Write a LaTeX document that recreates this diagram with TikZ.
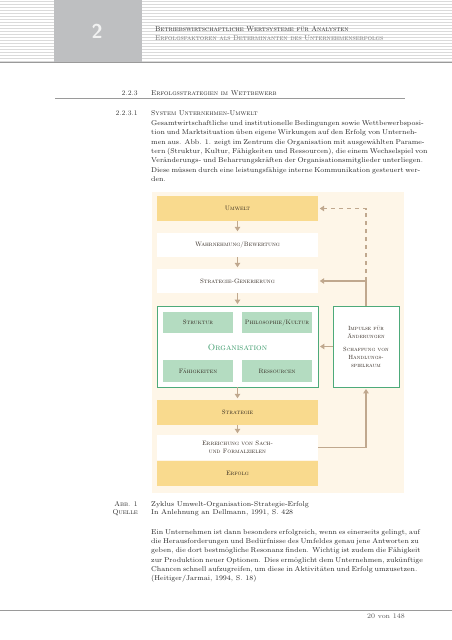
\documentclass[tikz,border=0pt]{standalone}
\usepackage{fontspec}
\usetikzlibrary{arrows.meta}
\definecolor{cream}{HTML}{FEF6E8}
\definecolor{gold}{HTML}{F9DA8E}
\definecolor{mint}{HTML}{B4DCC1}
\definecolor{grn}{HTML}{4DAA7A}
\definecolor{grntext}{HTML}{3A9A6A}
\definecolor{tan}{HTML}{C0A88E}
\definecolor{dtext}{HTML}{2E241C}
\definecolor{btext}{HTML}{262626}
\definecolor{hdrgray}{HTML}{BEBFC1}
\definecolor{stripe}{HTML}{DADADA}
\definecolor{rulegray}{HTML}{9A9A9A}
\newcommand{\jline}[1]{\makebox[254pt][s]{#1}}
\begin{document}
\begin{tikzpicture}[x=1pt,y=-1pt,
  box/.style={minimum width=161pt, minimum height=25pt, inner sep=0pt, align=center,
    font=\fontsize{6.3}{7.6}\selectfont\scshape\addfontfeature{FakeBold=0.5}, text=dtext},
  gbox/.style={box, fill=gold},
  wbox/.style={box, fill=white},
  mbox/.style={box, fill=mint, minimum width=70pt, minimum height=21.5pt},
  obox/.style={box, fill=white, draw=grn, line width=0.9pt},
  arr/.style={draw=tan, line width=1.4pt, -{Triangle[length=4.5pt,width=5.5pt]}, shorten >=1.5pt},
  body/.style={anchor=base west, inner sep=0pt, font=\fontsize{7}{9}\selectfont\addfontfeature{FakeBold=0.15}, text=btext},
  sc/.style={inner sep=0pt, font=\fontsize{7}{9}\selectfont\scshape\addfontfeature{FakeBold=0.3}, text=btext}
]
\useasboundingbox (0,0) rectangle (452,640);
\fill[white] (0,0) rectangle (452,640);
% header
\foreach \k in {0,...,20} \draw[stripe, line width=0.7pt] (0,1.5+3*\k) -- (452,1.5+3*\k);
\fill[hdrgray] (54,0) rectangle (142,62);
\draw[rulegray, line width=1.3pt] (0,62.5) -- (452,62.5);
\node[font=\sffamily\bfseries\fontsize{20}{20}\selectfont, text=white!90!gray] (chap) at (97,31.5) {2};
\node[sc, anchor=base west, text=black!85] (h1) at (155,31.5) {Betriebswirtschaftliche Wertsysteme für Analysten};
\node[sc, anchor=base west, text=black!55] (h2) at (155,40.5) {Erfolgsfaktoren als Determinanten des Unternehmenserfolgs};
% section headings
\node[sc, anchor=base east] (n1) at (138,95.5) {2.2.3};
\node[sc, anchor=base west] (t1) at (151,95.5) {Erfolgsstrategien im Wettbewerb};
\draw[rulegray, line width=1pt] (55,98.5) -- (405,98.5);
\node[sc, anchor=base east] (n2) at (138,115.5) {2.2.3.1};
\node[sc, anchor=base west] (t2) at (151,115.5) {System Unternehmen-Umwelt};
\foreach \t [count=\i from 0] in {
  {\jline{Gesamtwirtschaftliche und institutionelle Bedingungen sowie Wettbewerbsposi-}},
  {\jline{tion und Marktsituation üben eigene Wirkungen auf den Erfolg von Unterneh-}},
  {\jline{men aus. Abb. 1. zeigt im Zentrum die Organisation mit ausgewählten Parame-}},
  {\jline{tern (Struktur, Kultur, Fähigkeiten und Ressourcen), die einem Wechselspiel von}},
  {\jline{Veränderungs- und Beharrungskräften der Organisationsmitglieder unterliegen.}},
  {\jline{Diese müssen durch eine leistungsfähige interne Kommunikation gesteuert wer-}},
  {den.}}
  \node[body] (pa\i) at (151,125.5+9.3*\i) {\t};
% diagram panel
\fill[cream] (152,192) rectangle (404,493);
\node[gbox] (umwelt) at (237.5,208.5) {Umwelt};
\node[wbox, minimum height=24pt] (wahr) at (237.5,245) {Wahrnehmung/Bewertung};
\node[wbox, minimum height=24pt] (sgen) at (237.5,281) {Strategie-Generierung};
\node[obox, minimum height=81pt] (org) at (237.5,346.5) {};
\node[mbox] (struk) at (198,322.5) {Struktur};
\node[mbox] (philo) at (277,322.5) {Philosophie/Kultur};
\node[mbox, minimum height=22pt] (faeh) at (198,371) {Fähigkeiten};
\node[mbox, minimum height=22pt] (ress) at (277,371) {Ressourcen};
\node[inner sep=0pt, font=\fontsize{8.8}{10}\selectfont\scshape\addfontfeature{FakeBold=0.3}, text=grntext] (orglbl) at (237.5,347) {Organisation};
\node[obox, minimum width=66pt, minimum height=81pt, font=\fontsize{6}{8}\selectfont\scshape\addfontfeature{FakeBold=0.5}] (imp) at (366,346.5)
  {Impulse für\\Änderungen\\[5pt]Schaffung von\\Handlungs-\\spielraum};
\node[gbox] (strat) at (237.5,412.5) {Strategie};
\node[wbox] (erreich) at (237.5,447.5) {Erreichung von Sach-\\und Formalzielen};
\node[gbox] (erfolg) at (237.5,473.5) {Erfolg};
\draw[arr] (umwelt) -- (wahr);
\draw[arr] (wahr) -- (sgen);
\draw[arr] (sgen) -- (org);
\draw[arr] (org) -- (strat);
\draw[arr] (strat) -- (erreich);
\coordinate (knee) at (imp.north |- sgen.east);
\draw[arr] (erreich.east) -| (imp.south);
\draw[arr] (imp.north) |- (sgen.east);
\draw[arr, dash pattern=on 4pt off 4pt] (knee) |- (umwelt.east);
\draw[arr] (imp.west) -- (org.east);
% caption
\node[sc, anchor=base east, font=\fontsize{7}{9}\selectfont\scshape\addfontfeature{FakeBold=0.8}] (abb) at (138,506) {Abb. 1};
\node[sc, anchor=base east] (quelle) at (138,514.5) {Quelle};
\node[body] (cap1) at (151,506) {Zyklus Umwelt-Organisation-Strategie-Erfolg};
\node[body] (cap2) at (151,514.5) {In Anlehnung an Dellmann, 1991, S. 428};
\foreach \t [count=\i from 0] in {
  {\jline{Ein Unternehmen ist dann besonders erfolgreich, wenn es einerseits gelingt, auf}},
  {\jline{die Herausforderungen und Bedürfnisse des Umfeldes genau jene Antworten zu}},
  {\jline{geben, die dort bestmögliche Resonanz finden. Wichtig ist zudem die Fähigkeit}},
  {\jline{zur Produktion neuer Optionen. Dies ermöglicht dem Unternehmen, zukünftige}},
  {\jline{Chancen schnell aufzugreifen, um diese in Aktivitäten und Erfolg umzusetzen.}},
  {(Heitiger/Jarmai, 1994, S. 18)}}
  \node[body] (pb\i) at (151,534.5+9.2*\i) {\t};
% footer
\draw[rulegray, line width=0.9pt] (0,610.5) -- (452,610.5);
\node[body, anchor=base east, text=black!65] (pg) at (405,618.5) {20 von 148};
\end{tikzpicture}
\end{document}
